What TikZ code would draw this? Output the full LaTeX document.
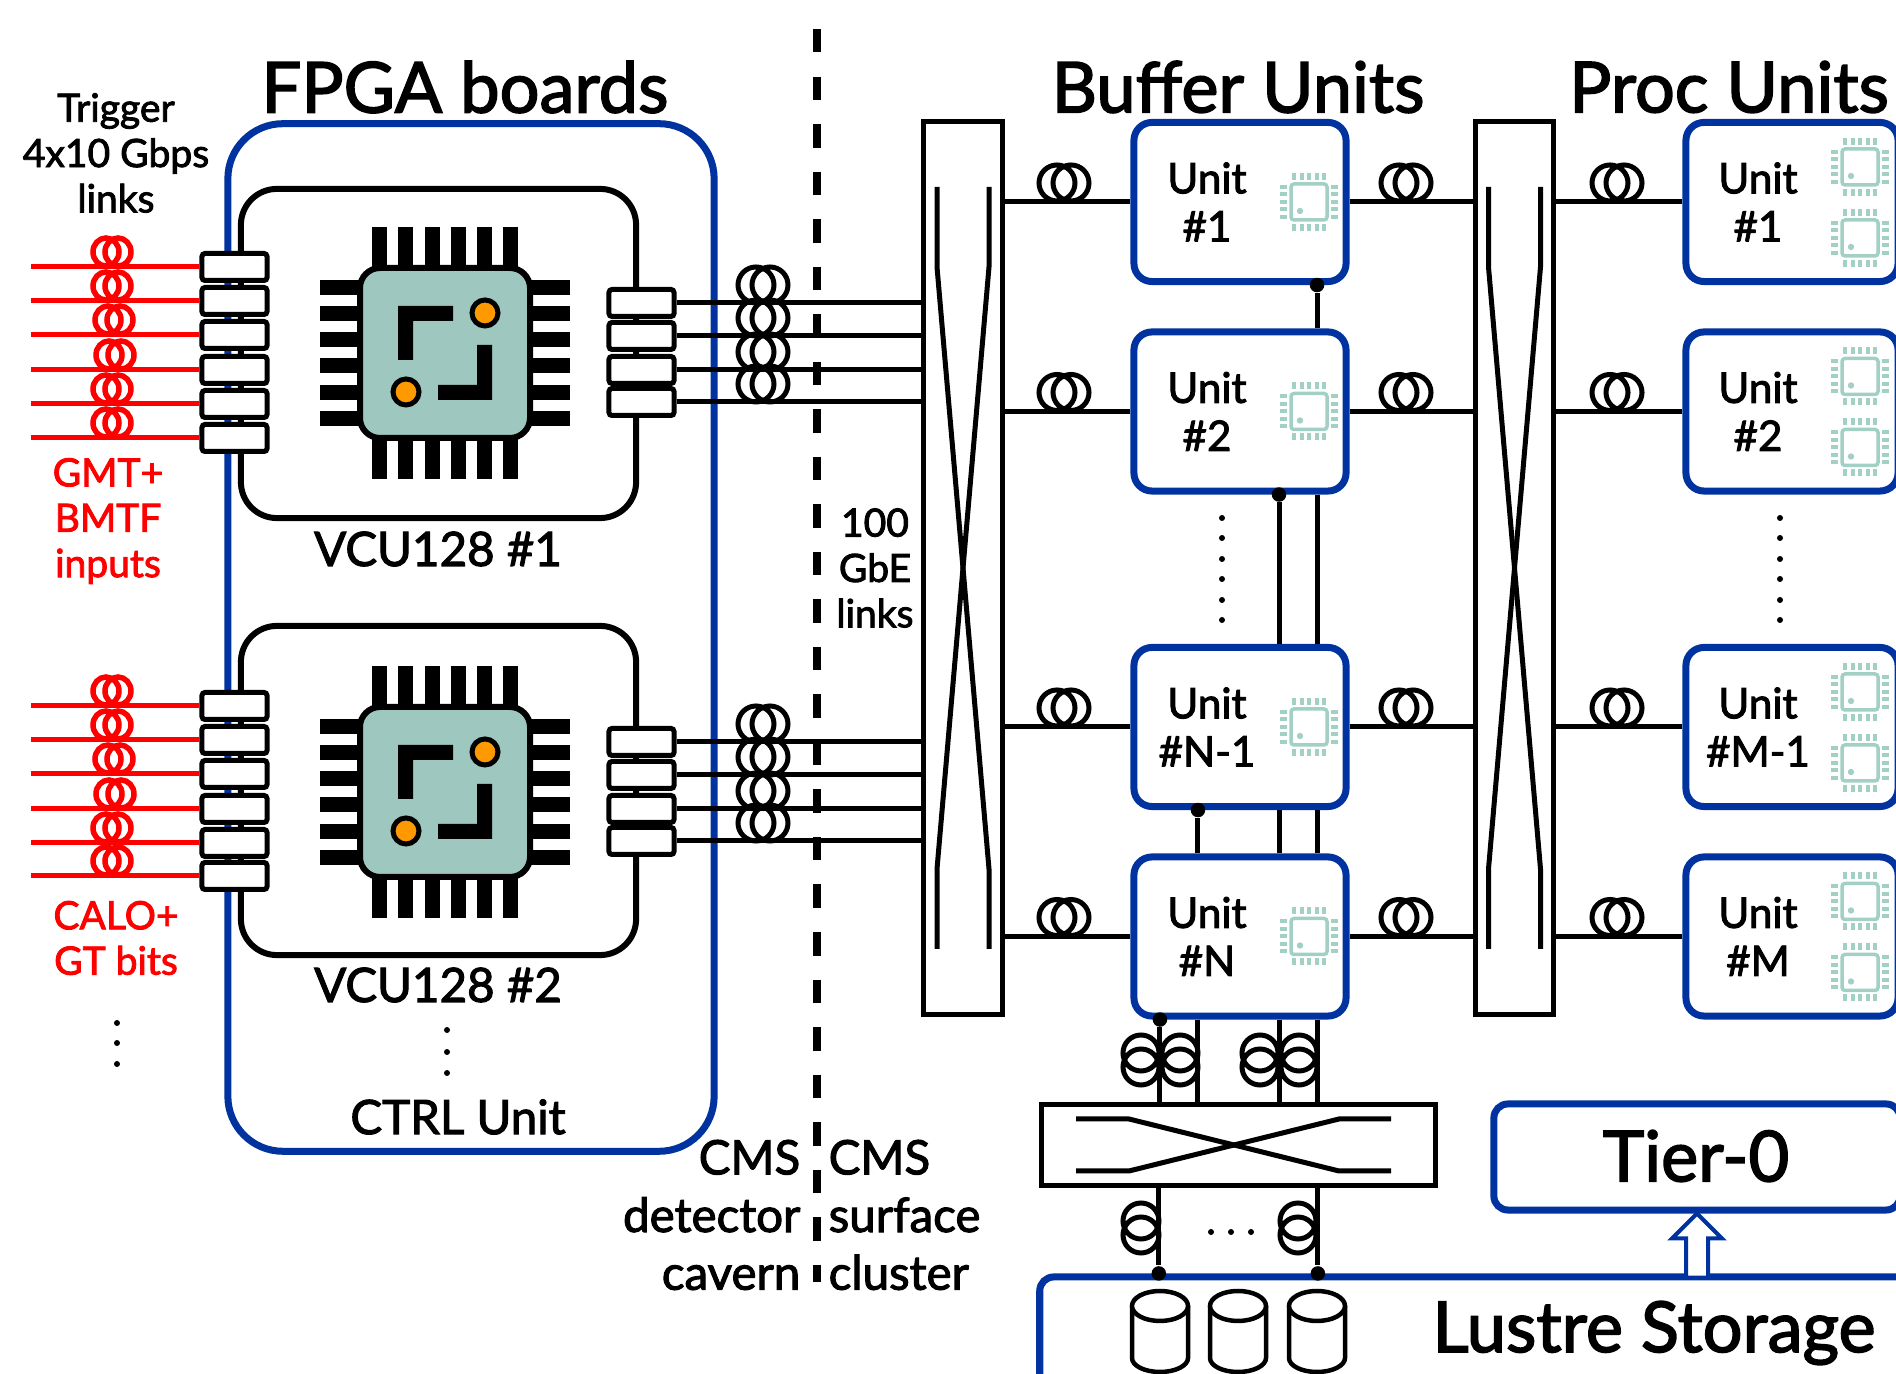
\documentclass[tikz,border=0pt]{standalone}
\usepackage{fontspec}
\setmainfont{Lato}[FakeBold=2.2]
\usetikzlibrary{arrows.meta,calc,positioning,shapes.geometric,shapes.arrows}
\definecolor{lhcblue}{HTML}{0033A0}
\definecolor{chipteal}{HTML}{9DC7BF}
\definecolor{iconteal}{HTML}{A3D0C4}
\definecolor{padorange}{HTML}{FF9900}

% two turns of fibre sitting on a link
\newcommand{\fiberloop}[2]{
  \draw[line width=.05cm] (#1-7,#2) circle[radius=18] (#1+7,#2) circle[radius=18];
}
\newcommand{\redloop}[2]{
  \draw[red, line width=.055cm] (#1-6,#2) circle[x radius=13, y radius=14] (#1+6,#2) circle[x radius=13, y radius=14];
}
\newcommand{\fiberloopv}[2]{
  \draw[line width=.05cm] (#1,#2-7) circle[radius=18] (#1,#2+7) circle[radius=18];
}
% small icon of a chip inside a unit
\newcommand{\chipicon}[2]{
  \begin{scope}[shift={(#1,#2)}]
    \draw[iconteal, line width=.035cm, rounded corners=.03cm] (-18,-18) rectangle (18,18);
    \fill[iconteal] (-9,9) circle[radius=3.2];
    \foreach \p in {-15,-7.5,0,7.5,15} {
      \fill[iconteal] (\p-2,-29) rectangle (\p+2,-22);
      \fill[iconteal] (\p-2,22) rectangle (\p+2,29);
      \fill[iconteal] (-29,\p-2) rectangle (-22,\p+2);
      \fill[iconteal] (22,\p-2) rectangle (29,\p+2);
    }
  \end{scope}
}
% the large FPGA in the middle of a board
\newcommand{\fpgachip}[1]{
  \begin{scope}[shift={(445,#1)}]
    \foreach \p in {-65.5,-39.5,-13,13,39.5,65.5} {
      \fill (\p-7.5,-126) rectangle (\p+7.5,-85);
      \fill (\p-7.5,85) rectangle (\p+7.5,126);
      \fill (-125,\p-7.5) rectangle (-85,\p+7.5);
      \fill (85,\p-7.5) rectangle (125,\p+7.5);
    }
    \draw[fill=chipteal, line width=.06cm, rounded corners=.2cm] (-85,-85) rectangle (85,85);
    \fill (-47,-47) -- (8,-47) -- (8,-32) -- (-32,-32) -- (-32,7) -- (-47,7) -- cycle;
    \fill (47,47) -- (-7,47) -- (-7,32) -- (32,32) -- (32,-8) -- (47,-8) -- cycle;
    \draw[fill=padorange, line width=.05cm] (40,-40) circle[radius=13];
    \draw[fill=padorange, line width=.05cm] (-39,39) circle[radius=13];
  \end{scope}
}
\newcommand{\switchcrossv}[2]{
  \draw[crossline] (#1-26,#2-381) -- (#1-26,#2-301) -- (#1+26,#2+301) -- (#1+26,#2+381);
  \draw[crossline] (#1+26,#2-381) -- (#1+26,#2-301) -- (#1-26,#2+301) -- (#1-26,#2+381);
}
% one disk of the storage
\newcommand{\diskcan}[1]{
  \draw[line width=.045cm, fill=white] (#1-28,1306) -- (#1-28,1358) arc[start angle=180, end angle=0, x radius=28, y radius=14] -- (#1+28,1306);
  \draw[line width=.045cm, fill=white] (#1,1306) circle[x radius=28, y radius=15];
}

\begin{document}
\begin{tikzpicture}[
    x=.01cm, y=-.01cm,
    bigtitle/.style={font=\fontsize{20}{24}\selectfont},
    midtitle/.style={font=\fontsize{13.5}{16.4}\selectfont},
    smalltext/.style={font=\fontsize{11.1}{12.9}\selectfont},
    redtext/.style={smalltext, text=red},
    bluebox/.style={draw=lhcblue, line width=.07cm, fill=white, inner sep=0pt},
    unitbox/.style={bluebox, rounded corners=.18cm, minimum width=2.12cm, minimum height=1.59cm},
    unitlabel/.style={align=center, font=\fontsize{12}{13.7}\selectfont},
    switchbox/.style={draw, line width=.05cm, fill=white, inner sep=0pt, minimum width=.78cm, minimum height=8.92cm},
    crossline/.style={line width=.05cm},
    connbox/.style={draw, line width=.05cm, fill=white, rounded corners=.03cm, inner sep=0pt, minimum width=.65cm, minimum height=.27cm},
    boardbox/.style={draw, line width=.06cm, rounded corners=.36cm, minimum width=3.95cm, minimum height=3.29cm},
    link/.style={line width=.05cm},
    redlink/.style={line width=.05cm, draw=red},
    junction/.style={circle, fill, inner sep=0pt, minimum size=.145cm},
    vdots/.style={circle, fill, inner sep=0pt, minimum size=.06cm}
  ]
    \useasboundingbox (0,0) rectangle (1896,1374);
    \path[clip] (0,0) rectangle (1896,1374);

    % FPGA side
    \node[bluebox, rounded corners=.55cm, minimum width=4.86cm, minimum height=10.27cm] (fpgabox) at (471,637.5) {};
    \node[bigtitle] (fpgatitle) at (465,87) {FPGA boards};
    \node[boardbox] (boardone) at (438.5,353.5) {};
    \node[boardbox] (boardtwo) at (438.5,790.5) {};
    \fpgachip{353}
    \fpgachip{792}
    \node[midtitle] (vcuone) at (438,549) {VCU128 \#1};
    \node[midtitle] (vcutwo) at (438,985) {VCU128 \#2};
    \node[midtitle] (ctrl) at (458,1117) {CTRL Unit};
    \node[smalltext, align=center] (trigger) at (116,153) {Trigger\\4x10 Gbps\\links};
    \node[redtext, align=center] (gmt) at (108,521) {GMT+\\BMTF\\inputs};
    \node[redtext, align=center] (calo) at (116,938) {CALO+\\GT bits};

    % cut between cavern and surface
    \coordinate (cuttop) at (817,29);
    \coordinate (cutbot) at (817,1282);
    \draw[line width=.08cm, dash pattern=on .235cm off .24cm] (cuttop) -- (cutbot);
    \node[smalltext, align=center] (gbe) at (875,568) {100\\GbE\\links};
    \node[midtitle, align=right, anchor=east, inner sep=0pt] (cavern) at (801,1215) {CMS\\detector\\cavern};
    \node[midtitle, align=left, anchor=west, inner sep=0pt] (surface) at (828,1215) {CMS\\surface\\cluster};

    % input links, one connector per fibre
    \foreach \i/\yy/\lx in {1/267/112,2/301/112,3/335/114,4/370/115,5/404/112,6/438/112,
                            7/706/112,8/740/112,9/774/114,10/809/115,11/843/112,12/876/112} {
      \redloop{\lx}{\yy-15}
      \node[connbox] (in\i) at (234.5,\yy) {};
      \coordinate (src\i) at (31,\yy);
      \draw[redlink] (src\i) -- (in\i);
    }

    % output links to the first switch
    \node[switchbox] (swone) at (963,568) {};
    \switchcrossv{963}{568}
    \foreach \i/\yy in {1/303,2/336,3/370,4/402,5/742,6/775,7/809,8/841} {
      \fiberloop{763}{\yy-18}
      \node[connbox] (out\i) at (641.5,\yy) {};
      \draw[link] (out\i.east) -- (out\i.east -| swone.west);
    }

    % buffer and proc units
    \node[bigtitle] (buftitle) at (1238,87) {Buffer Units};
    \node[bigtitle] (proctitle) at (1729,87) {Proc Units};
    \node[switchbox] (swtwo) at (1514.5,568) {};
    \switchcrossv{1514.5}{568}
    \node[unitbox] (bufone) at (1240,202) {};
    \node[unitbox] (buftwo) at (1240,411.5) {};
    \node[unitbox] (bufnmo) at (1240,727) {};
    \node[unitbox] (bufn) at (1240,936.5) {};
    \node[unitbox] (procone) at (1792,202) {};
    \node[unitbox] (proctwo) at (1792,411.5) {};
    \node[unitbox] (procmmo) at (1792,727) {};
    \node[unitbox] (procm) at (1792,936.5) {};

    \foreach \u/\p/\yy/\ub/\pb in {bufone/procone/202/\#1/\#1,buftwo/proctwo/411.5/\#2/\#2,
                                   bufnmo/procmmo/727/\#N-1/\#M-1,bufn/procm/936.5/\#N/\#M} {
      \node[unitlabel] at (1207,\yy) {Unit\\\ub};
      \node[unitlabel] at (1758,\yy) {Unit\\\pb};
      \chipicon{1309}{\yy}
      \chipicon{1860}{\yy-35}
      \chipicon{1860}{\yy+36}
      \draw[link] (\u.west -| swone.east) -- (\u.west);
      \draw[link] (\u.east) -- (\u.east -| swtwo.west);
      \draw[link] (\p.west -| swtwo.east) -- (\p.west);
      \fiberloop{1064}{\yy-19}
      \fiberloop{1406}{\yy-19}
      \fiberloop{1617}{\yy-19}
    }

    % dots between the units
    \foreach \xx in {1222,1780} \foreach \yy in {518,538,559,579,600,620} {
      \node[vdots] at (\xx,\yy) {};
    }

    % links that tie the units together
    \node[junction] (dotone) at ([xshift=.77cm]bufone.south) {};
    \node[junction] (dottwo) at ([xshift=.39cm]buftwo.south) {};
    \node[junction] (dotthree) at ([xshift=-.42cm]bufnmo.south) {};
    \node[junction] (dotfour) at ([xshift=-.8cm]bufn.south) {};
    \draw[link] (dotone) -- ([xshift=.77cm]buftwo.north);
    \draw[link] ([xshift=.77cm]buftwo.south) -- ([xshift=.77cm]bufnmo.north);
    \draw[link] (dottwo) -- ([xshift=.39cm]bufnmo.north);
    \draw[link] (dotthree) -- ([xshift=-.42cm]bufn.north);
    \draw[link] ([xshift=.39cm]bufnmo.south) -- ([xshift=.39cm]bufn.north);
    \draw[link] ([xshift=.77cm]bufnmo.south) -- ([xshift=.77cm]bufn.north);

    % lower switch and storage
    \node[draw, line width=.05cm, fill=white, inner sep=0pt, minimum width=3.93cm, minimum height=.8cm] (swthree) at (1238.5,1145) {};
    \draw[line width=.05cm] (1076,1119) -- (1129,1119) -- (1339,1171) -- (1391,1171);
    \draw[line width=.05cm] (1076,1171) -- (1129,1171) -- (1339,1119) -- (1391,1119);
    \node[bluebox, rounded corners=.14cm, minimum width=9cm, minimum height=2cm] (lustre) at (1490,1377) {};
    \node[bigtitle] (lustretext) at (1654,1333) {Lustre Storage};
    \node[bluebox, rounded corners=.14cm, minimum width=4.06cm, minimum height=1.06cm] (tier) at (1697,1157) {};
    \node[bigtitle] (tiertext) at (1696,1156) {Tier-0};
    \node[single arrow, shape border rotate=90, draw=lhcblue, line width=.04cm, fill=white, inner sep=.09cm,
      minimum height=.64cm, minimum width=.48cm, single arrow head extend=.14cm, single arrow head indent=0pt,
      single arrow tip angle=90] (uparrow) at (1697,1251) {};
    \node[junction] (dotfive) at ([xshift=-3.31cm]lustre.north) {};
    \node[junction] (dotsix) at ([xshift=-1.72cm]lustre.north) {};

    \draw[link] (dotfour) -- (dotfour |- swthree.north);
    \draw[link] ([xshift=-.42cm]bufn.south) -- ([xshift=-.42cm]bufn.south |- swthree.north);
    \draw[link] ([xshift=.39cm]bufn.south) -- ([xshift=.39cm]bufn.south |- swthree.north);
    \draw[link] ([xshift=.77cm]bufn.south) -- ([xshift=.77cm]bufn.south |- swthree.north);
    \draw[link] (dotfive |- swthree.south) -- (dotfive);
    \draw[link] (dotsix |- swthree.south) -- (dotsix);
    \foreach \xx in {1141,1180,1260,1299} { \fiberloopv{\xx}{1060} }
    \fiberloopv{1141}{1228}
    \fiberloopv{1298}{1228}
    \foreach \xx in {1211,1231,1251} { \node[vdots] at (\xx,1232) {}; }
    \foreach \yy in {1030,1052,1073} { \node[vdots] at (447,\yy) {}; }
    \foreach \yy in {1023,1043,1064} { \node[vdots] at (117,\yy) {}; }

    \diskcan{1160}
    \diskcan{1238}
    \diskcan{1317}
  \end{tikzpicture}
\end{document}
